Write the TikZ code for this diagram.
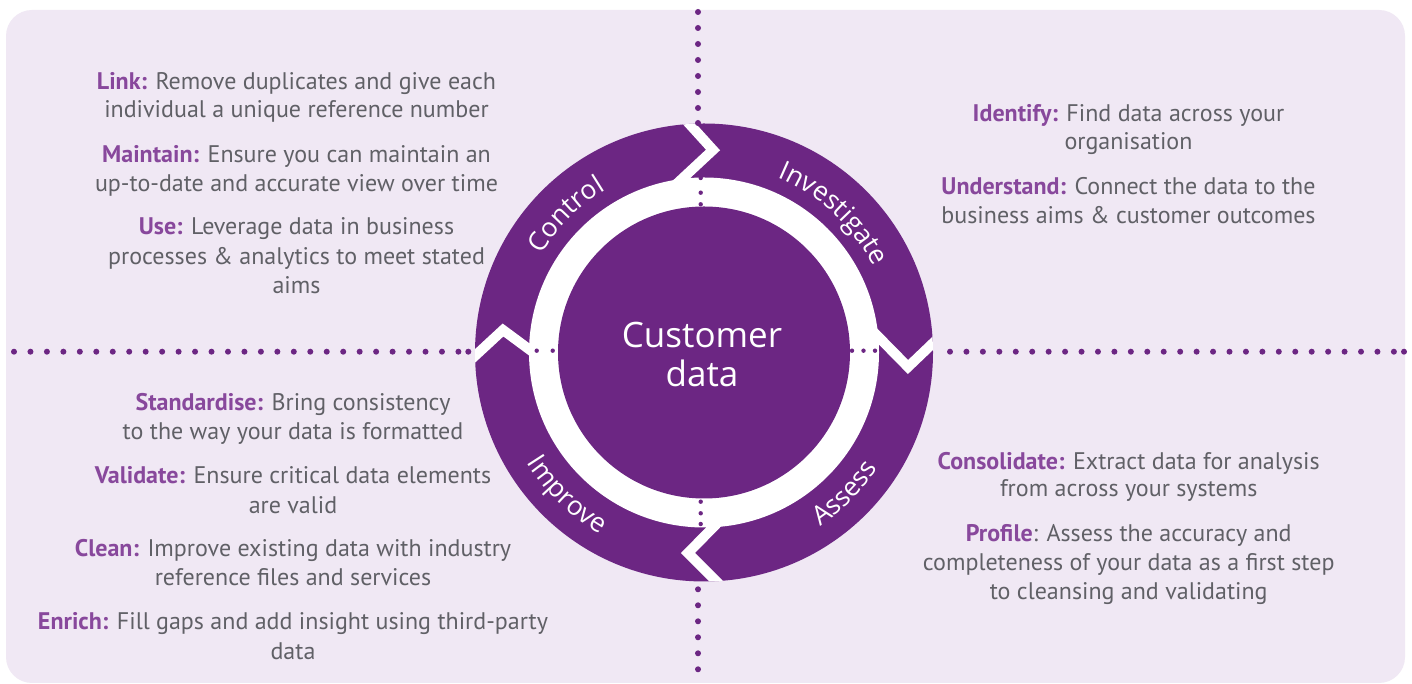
\documentclass[tikz,border=0pt]{standalone}
\usepackage{fontspec}
\setmainfont{PT Sans}
\newfontfamily\ringfont{Open Sans}
\usetikzlibrary{decorations.text,calc}
\definecolor{ringpurple}{HTML}{6C2683}
\definecolor{lav}{HTML}{F0E8F4}
\definecolor{lblpurple}{HTML}{88489C}
\definecolor{bodygray}{HTML}{606066}
\newcommand{\lb}[1]{{\bfseries\color{lblpurple}#1}}
\begin{document}
\begin{tikzpicture}[x=1pt,y=1pt,
  txt/.style={anchor=base, inner sep=0pt, text=bodygray, font=\fontsize{24}{29}\selectfont},
  ctr/.style={anchor=base, inner sep=0pt, text=white, font=\ringfont\fontsize{35}{39}\selectfont},
  chev/.style={draw=white, line width=10pt, line join=miter, line cap=butt},
  odot/.style={fill=ringpurple},
  ringlabel/.style={decorate, decoration={text along path, text align=center, text color=white,
     text={|\ringfont\fontsize{26.5}{30}\selectfont|#1}}}]
\useasboundingbox (0,0) rectangle (1412,684);
\fill[white] (0,0) rectangle (1412,684);
\fill[lav, rounded corners=26pt] (6,1) rectangle (1405,674);
\coordinate (C) at (704,331.5);
% outer ring
\fill[ringpurple] (C) circle[radius=229];
\begin{scope}
  \clip (C) circle[radius=229];
  \draw[chev] (678.7,571.8) -- (713,534) -- (675.3,498.9);
  \draw[chev] (940.2,347.8) -- (908,317) -- (869.65,356);
  \draw[chev] (465.2,319) -- (503,354) -- (538.1,328);
  \draw[chev] (727.2,91.8) -- (688,131) -- (719.85,163.5);
\end{scope}
\fill[white] (C) circle[radius=175];
% dots inside the white ring
\foreach \Y in {506,491.3,479.7,182.3,170.7,160} \fill[odot] (700.7,\Y) circle[radius=2.2];
\foreach \X in {536.7,552.7,852,863.5,875} \fill[odot] (\X,333.3) circle[radius=2.2];
% inner disk
\fill[ringpurple] (C) circle[radius=146];
\node[ctr] (cd1) at (702,336) {Customer};
\node[ctr] (cd2) at (702,297) {data};
% ring labels
\path[ringlabel=Control] ($(C)+(175:190)$) arc[start angle=175, end angle=95, radius=190];
\path[ringlabel=Investigate] ($(C)+(87:190)$) arc[start angle=87, end angle=7, radius=190];
\path[ringlabel=Assess] ($(C)+(-85:209)$) arc[start angle=-85, end angle=-5, radius=209];
\path[ringlabel=Improve] ($(C)+(-174:209)$) arc[start angle=-174, end angle=-94, radius=209];
% top-left text
\node[txt] (tl1) at (296.5,594.7) {\lb{Link:} Remove duplicates and give each};
\node[txt] (tl2) at (296.5,566) {individual a unique reference number};
\node[txt] (tl3) at (296.5,521.3) {\lb{Maintain:} Ensure you can maintain an};
\node[txt] (tl4) at (296.5,492.3) {up-to-date and accurate view over time};
\node[txt] (tl5) at (296.5,449) {\lb{Use:} Leverage data in business};
\node[txt] (tl6) at (296.5,419.7) {processes \& analytics to meet stated};
\node[txt] (tl7) at (296.5,390.7) {aims};
% top-right text
\node[txt] (tr1) at (1128.5,562.3) {\lb{Identify:} Find data across your};
\node[txt] (tr2) at (1128.5,534) {organisation};
\node[txt] (tr3) at (1128.5,489.7) {\lb{Understand:} Connect the data to the};
\node[txt] (tr4) at (1128.5,460.7) {business aims \& customer outcomes};
% bottom-left text
\node[txt] (bl1) at (293,273.3) {\lb{Standardise:} Bring consistency};
\node[txt] (bl2) at (293,244) {to the way your data is formatted};
\node[txt] (bl3) at (293,200) {\lb{Validate:} Ensure critical data elements};
\node[txt] (bl4) at (293,170.7) {are valid};
\node[txt] (bl5) at (293,127.3) {\lb{Clean:} Improve existing data with industry};
\node[txt] (bl6) at (293,98) {reference files and services};
\node[txt] (bl7) at (293,54) {\lb{Enrich:} Fill gaps and add insight using third-party};
\node[txt] (bl8) at (293,24.7) {data};
% bottom-right text
\node[txt] (br1) at (1128.7,214.7) {\lb{Consolidate:} Extract data for analysis};
\node[txt] (br2) at (1128.7,187.3) {from across your systems};
\node[txt] (br3) at (1128.7,142.3) {\lb{Profile}: Assess the accuracy and};
\node[txt] (br4) at (1128.7,113.3) {completeness of your data as a first step};
\node[txt] (br5) at (1128.7,84) {to cleansing and validating};
% outer dotted lines
\foreach \k in {0,...,27} \fill[odot] ({14+16.46*\k},332.3) circle[radius=3];
\fill[odot] (468.3,332.3) circle[radius=3];
\foreach \k in {0,...,27} \fill[odot] ({950+16.44*\k},332.3) circle[radius=3];
\fill[odot] (1404,332.3) circle[radius=3];
\foreach \Y in {672,656,640,624,608,592,576,561} \fill[odot] (698,\Y) circle[radius=3];
\foreach \k in {0,...,5} \fill[odot] (698,{94.7-16*\k}) circle[radius=3];
\end{tikzpicture}
\end{document}
